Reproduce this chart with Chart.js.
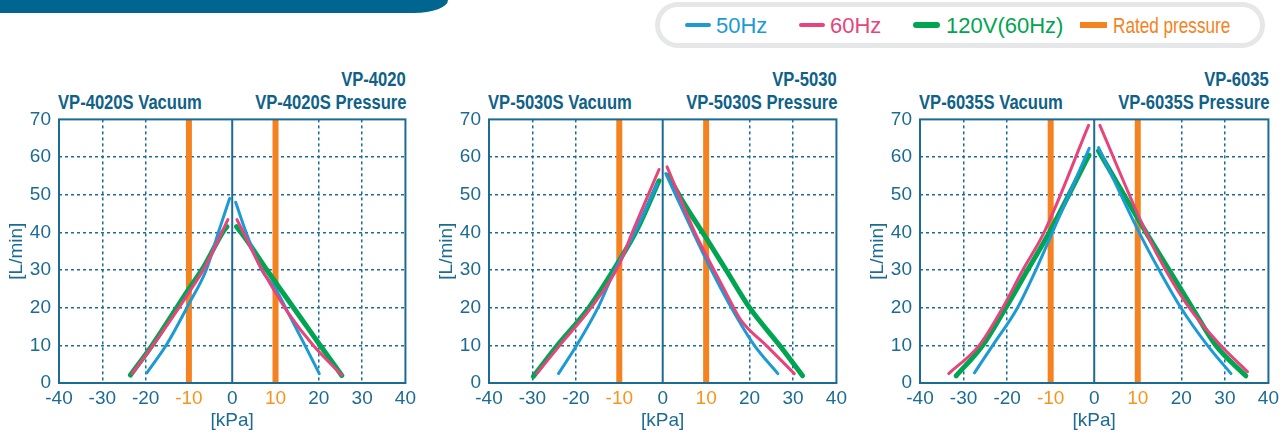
<!DOCTYPE html>
<html>
<head>
<meta charset="utf-8">
<script src="https://cdn.jsdelivr.net/npm/chart.js@4.4.1/dist/chart.umd.min.js"></script>
<style>
    body { margin: 0; width: 1285px; height: 432px; background: #fff; position: relative; overflow: hidden; font-family: "Liberation Sans", Arial, sans-serif; }
    .bar { position: absolute; left: 0; top: 0; width: 448px; height: 13px; background: #00668f; border-bottom-right-radius: 34px 13px; }
    .legend { position: absolute; left: 655px; top: 2px; width: 600px; height: 36px; border: 5px solid #e6e7e8; border-radius: 24px; }
    .lg-line { position: absolute; height: 4px; border-radius: 2px; }
    .lg-text { position: absolute; top: 15px; font-size: 22px; line-height: 22px; white-space: nowrap; }
    .ttl { position: absolute; font-weight: bold; font-size: 21px; line-height: 21px; color: #0f6189; white-space: nowrap; }
    canvas { position: absolute; top: 100px; }
</style>
</head>
<body>
<div class="bar"></div>
<div class="legend"></div>
<div id="legendItems"></div>
<div id="titles"></div>
<canvas id="c4020" width="419" height="332" style="left:1px"></canvas>
<canvas id="c5030" width="420" height="332" style="left:431px"></canvas>
<canvas id="c6035" width="421" height="332" style="left:862px"></canvas>
<script>
const kpaTicks = [-40, -30, -20, -10, 0, 10, 20, 30, 40];
const flowTicks = [0, 10, 20, 30, 40, 50, 60, 70];
const ratedPressure = [-10, 10];
const seriesNames = ["50Hz", "60Hz", "120V(60Hz)", "Rated pressure"];
const models = ["VP-4020", "VP-5030", "VP-6035"];

// [kPa, L/min], vacuum side (negative) and pressure side
const vp4020Vac50 = [[-19.7, 2.7], [-15, 10.5], [-10, 21], [-6, 30], [-3.2, 40], [-0.6, 49]];
const vp4020Vac60 = [[-23.1, 2.5], [-18.3, 10], [-10, 24], [-6.2, 31], [-2.4, 40], [-1, 43.4]];
const vp4020Vac120 = [[-23.5, 2.1], [-18.5, 10], [-10, 25], [-6.5, 31], [-2.2, 40], [-1.2, 41.5]];
const vp4020Pre50 = [[0.8, 48], [3.2, 40], [6.8, 30], [10, 25], [13.2, 18], [16.8, 10], [20.1, 2.5]];
const vp4020Pre60 = [[1.1, 43.4], [3.2, 38.5], [6, 32], [10, 24], [13, 18.5], [18.7, 10], [25.3, 2.1]];
const vp4020Pre120 = [[1, 41.5], [3, 38.5], [8, 30], [12, 23.5], [16, 17], [20, 10.5], [25.3, 2]];

const vp5030Vac50 = [[-24, 2.5], [-19.8, 10], [-14.9, 20], [-11, 30], [-6.4, 40], [-1.2, 53]];
const vp5030Vac60 = [[-29, 2.5], [-23.7, 10], [-16.5, 20], [-10, 31.5], [-7, 40], [-0.85, 56.7]];
const vp5030Vac120 = [[-29.8, 1.7], [-24.6, 9.5], [-17, 20], [-10, 32.5], [-6, 40.5], [-0.85, 53.7]];
const vp5030Pre50 = [[0.7, 55.6], [7, 40], [11.2, 30], [15.8, 20], [21.1, 10], [26.5, 2.5]];
const vp5030Pre60 = [[1, 57.4], [7.4, 40], [11.8, 30], [15, 23], [18, 16.7], [24, 9.8], [30.3, 2.5]];
const vp5030Pre120 = [[1.2, 55.2], [5, 47.5], [10, 38.5], [14.6, 30], [20, 20], [26.9, 10], [32.2, 1.9]];

const vp6035Vac50 = [[-27.5, 2.7], [-23.3, 10], [-17.6, 20], [-13.4, 30], [-9.6, 40], [-1.15, 62.3]];
const vp6035Vac60 = [[-33.4, 2.5], [-26.4, 10], [-21, 20], [-16.4, 30], [-11.5, 40], [-1.3, 68.4]];
const vp6035Vac120 = [[-31.7, 1.9], [-25.6, 10], [-20.3, 20], [-15.3, 30], [-10.3, 40], [-1.2, 60.5]];
const vp6035Pre50 = [[1, 62.5], [10.3, 40], [14.9, 30], [19.9, 20], [26, 10], [31.4, 2.5]];
const vp6035Pre60 = [[1.3, 68.4], [11.9, 40], [16.4, 30], [21.8, 20], [29, 10], [35.2, 3]];
const vp6035Pre120 = [[1, 61.6], [11.9, 40], [17.2, 30], [22.5, 20], [27.9, 10], [34.8, 1.9]];

const BLUE = "#1c9ad6", PINK = "#e9437b", GREEN = "#00a551", ORANGE = "#f58220";
const AXIS = "#1c6b94", ORANGE_TXT = "#f7941d";
const FONT = "'Liberation Sans', Arial, sans-serif";

// legend (html)
const legendItems = [
    { color: BLUE, x: 685, w: 26, h: 4, tx: 716 },
    { color: PINK, x: 799, w: 26, h: 4, tx: 830 },
    { color: GREEN, x: 913, w: 27, h: 6, tx: 946 },
    { color: ORANGE, x: 1080, w: 27, h: 6, tx: 1113, squash: 0.78 }
];
const lg = document.getElementById("legendItems");
legendItems.forEach((it, i) => {
    const line = document.createElement("div");
    line.className = "lg-line";
    line.style.cssText = `left:${it.x}px;top:${25 - it.h / 2}px;width:${it.w}px;height:${it.h}px;background:${it.color};` +
        (i === 3 ? "border-radius:0;" : `border-radius:${it.h / 2}px;`);
    lg.appendChild(line);
    const t = document.createElement("div");
    t.className = "lg-text";
    t.textContent = seriesNames[i];
    t.style.cssText = `left:${it.tx}px;color:${it.color};` +
        (it.squash ? `transform:scaleX(${it.squash});transform-origin:left top;` : "");
    lg.appendChild(t);
});

const panels = [
    { id: "c4020", left: 59, right: 406, sets: [vp4020Vac50, vp4020Vac60, vp4020Vac120, vp4020Pre50, vp4020Pre60, vp4020Pre120] },
    { id: "c5030", left: 489, right: 837, sets: [vp5030Vac50, vp5030Vac60, vp5030Vac120, vp5030Pre50, vp5030Pre60, vp5030Pre120] },
    { id: "c6035", left: 920, right: 1269, sets: [vp6035Vac50, vp6035Vac60, vp6035Vac120, vp6035Pre50, vp6035Pre60, vp6035Pre120] }
];

// titles above each panel
const titles = document.getElementById("titles");
function addTitle(text, x, top, alignRight) {
    const d = document.createElement("div");
    d.className = "ttl";
    d.textContent = text;
    d.style.top = top + "px";
    if (alignRight) {
        d.style.right = (1285 - x) + "px";
        d.style.transform = "scaleX(0.79)";
        d.style.transformOrigin = "right top";
    } else {
        d.style.left = x + "px";
        d.style.transform = "scaleX(0.79)";
        d.style.transformOrigin = "left top";
    }
    titles.appendChild(d);
}
panels.forEach((p, i) => {
    addTitle(models[i], p.right, 68, true);
    addTitle(models[i] + "S Vacuum", p.left - 1, 91, false);
    addTitle(models[i] + "S Pressure", p.right, 91, true);
});

const frame = {
    id: "frame",
    afterDatasetsDraw(chart) {
        const a = chart.chartArea;
        const ctx = chart.ctx;
        ctx.save();
        ctx.strokeStyle = AXIS;
        ctx.lineWidth = 2;
        ctx.strokeRect(a.left, a.top, a.right - a.left, a.bottom - a.top);
        ctx.restore();
    }
};

function curve(data, color, width, order) {
    return {
        data: data.map(p => ({ x: p[0], y: p[1] })),
        showLine: true,
        borderColor: color,
        borderWidth: width,
        borderCapStyle: "round",
        borderJoinStyle: "round",
        pointRadius: 0,
        cubicInterpolationMode: "monotone",
        order: order
    };
}

function vline(x, color, width, order) {
    return {
        data: [{ x: x, y: 0 }, { x: x, y: 70 }],
        showLine: true,
        borderColor: color,
        borderWidth: width,
        borderCapStyle: "butt",
        pointRadius: 0,
        order: order
    };
}

function makeChart(p) {
    const s = p.sets;
    const datasets = [
        curve(s[2], GREEN, 5, 3), curve(s[5], GREEN, 5, 3),
        curve(s[0], BLUE, 3, 2), curve(s[3], BLUE, 3, 2),
        curve(s[1], PINK, 3, 1), curve(s[4], PINK, 3, 1),
        vline(0, AXIS, 2, 9)
    ];
    ratedPressure.forEach(v => datasets.push(vline(v, ORANGE, 6, 8)));

    new Chart(document.getElementById(p.id), {
        type: "scatter",
        data: { datasets },
        options: {
            responsive: false,
            animation: false,
            layout: { padding: { left: 0, right: 14, top: 12, bottom: 0 } },
            plugins: { legend: { display: false }, tooltip: { enabled: false } },
            scales: {
                x: {
                    min: -40, max: 40,
                    afterBuildTicks: sc => { sc.ticks = kpaTicks.map(v => ({ value: v })); },
                    afterFit: sc => { sc.height = 49; },
                    grid: {
                        drawTicks: false,
                        color: c => (c.tick && (c.tick.value === 0 || Math.abs(c.tick.value) === 40)) ? "rgba(0,0,0,0)" : AXIS,
                        lineWidth: 1.5
                    },
                    border: { display: false, dash: [3, 3] },
                    ticks: {
                        padding: 4,
                        font: { family: FONT, size: 19 },
                        color: c => ratedPressure.includes(c.tick.value) ? ORANGE_TXT : AXIS,
                        maxRotation: 0
                    },
                    title: { display: true, text: "[kPa]", color: AXIS, font: { family: FONT, size: 19 }, padding: { top: 0, bottom: 0 } }
                },
                y: {
                    min: 0, max: 70,
                    afterBuildTicks: sc => { sc.ticks = flowTicks.map(v => ({ value: v })); },
                    afterFit: sc => { sc.width = 58; },
                    grid: {
                        drawTicks: false,
                        color: c => (c.tick && (c.tick.value === 0 || c.tick.value === 70)) ? "rgba(0,0,0,0)" : AXIS,
                        lineWidth: 1.5
                    },
                    border: { display: false, dash: [3, 3] },
                    ticks: { padding: 8, font: { family: FONT, size: 19 }, color: AXIS },
                    title: { display: true, text: "[L/min]", color: AXIS, font: { family: FONT, size: 19 }, padding: { top: 4, bottom: 0 } }
                }
            }
        },
        plugins: [frame]
    });
}

panels.forEach(makeChart);
</script>
</body>
</html>
